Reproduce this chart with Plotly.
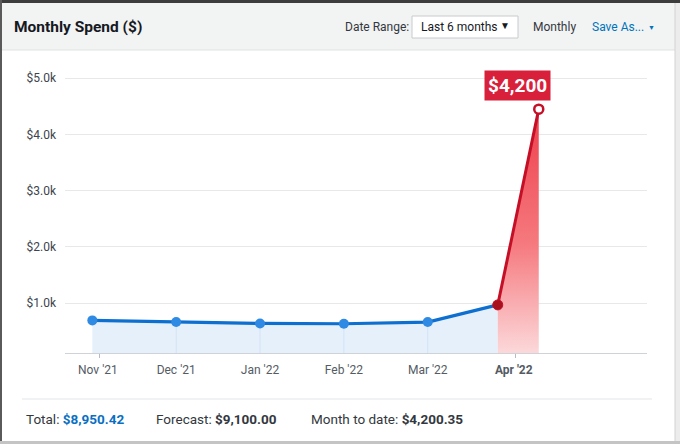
import plotly.graph_objects as go

# spend per point (the last two are the current month: start and to-date peak)
x_pos = [0, 1, 2, 3, 4, 4.835, 5.324]
spend = [695, 665, 640, 635, 665, 970, 4450]
peak_label = "$4,200"

month_labels = ["Nov '21", "Dec '21", "Jan '22", "Feb '22", "Mar '22", "<b>Apr '22</b>"]
month_ticks = [0.066, 1.0, 2.0, 3.0, 4.0, 5.026]
edge_ticks = [0.083, 5.045]

y_ticks = [1000, 2000, 3000, 4000, 5000]
y_labels = ["$1.0k", "$2.0k", "$3.0k", "$4.0k", "$5.0k"]
y_min, y_max = 115, 5324

total = "$8,950.42"
forecast = "$9,100.00"
month_to_date = "$4,200.35"

W, H = 680, 444
FONT = "Roboto"


def px(x):
    return x / W


def py(y):
    return 1 - y / H


fig = go.Figure()

# blue history, with faint vertical guides under each point
guide_x, guide_y = [], []
for xv, yv in zip(x_pos[1:5], spend[1:5]):
    guide_x += [xv, xv, None]
    guide_y += [0, yv, None]

fig.add_trace(go.Scatter(x=x_pos[:6], y=spend[:6], mode="lines", fill="tozeroy",
                         fillcolor="#e6f0fb", line=dict(color="rgba(0,0,0,0)", width=0),
                         hoverinfo="skip", showlegend=False))
fig.add_trace(go.Scatter(x=guide_x, y=guide_y, mode="lines",
                         line=dict(color="#d3e2f4", width=1),
                         hoverinfo="skip", showlegend=False))
fig.add_trace(go.Scatter(x=x_pos[5:], y=spend[5:], mode="lines", fill="tozeroy",
                         fillgradient=dict(type="vertical", start=y_min, stop=spend[6],
                                           colorscale=[[0, "#fcd8da"], [0.45, "#f5797e"],
                                                       [1, "#ee3f4b"]]),
                         line=dict(color="rgba(0,0,0,0)", width=0),
                         hoverinfo="skip", showlegend=False))
fig.add_trace(go.Scatter(x=x_pos[:6], y=spend[:6], mode="lines",
                         line=dict(color="#0d6fd0", width=3.2),
                         showlegend=False))
fig.add_trace(go.Scatter(x=x_pos[:5], y=spend[:5], mode="markers",
                         marker=dict(color="#2f8ae4", size=10),
                         showlegend=False))
fig.add_trace(go.Scatter(x=x_pos[5:], y=spend[5:], mode="lines",
                         line=dict(color="#c50f26", width=3),
                         showlegend=False))
fig.add_trace(go.Scatter(x=[x_pos[5]], y=[spend[5]], mode="markers",
                         marker=dict(color="#a8121f", size=10,
                                     line=dict(color="#c50f26", width=1)),
                         showlegend=False))
fig.add_trace(go.Scatter(x=[x_pos[6]], y=[spend[6]], mode="markers",
                         marker=dict(color="white", size=9,
                                     line=dict(color="#c50f26", width=2.5)),
                         showlegend=False))

# invisible overlay axis that only carries the two edge tick marks
fig.add_trace(go.Scatter(x=[x_pos[0]], y=[spend[0]], xaxis="x2", mode="markers",
                         marker=dict(opacity=0), hoverinfo="skip", showlegend=False))

x_range = [-0.326, 6.615]
fig.update_layout(
    width=W, height=H,
    margin=dict(l=0, r=0, t=0, b=0),
    paper_bgcolor="white", plot_bgcolor="white",
    font=dict(family=FONT, size=12, color="#545b64"),
    xaxis=dict(domain=[px(65), px(647)], range=x_range, tickmode="array",
               tickvals=month_ticks, ticktext=month_labels, showgrid=False,
               zeroline=False, showline=True, linecolor="#cfd3d7", linewidth=1,
               ticks="", ticklabelstandoff=6,
               tickfont=dict(family=FONT, size=12, color="#545b64")),
    xaxis2=dict(domain=[px(65), px(647)], range=x_range, overlaying="x",
                anchor="y", tickmode="array", tickvals=edge_ticks,
                showticklabels=False, ticks="outside", ticklen=4,
                tickcolor="#b8bcc0", showgrid=False, zeroline=False, showline=False),
    yaxis=dict(domain=[py(353), py(60)], range=[y_min, y_max], tickmode="array",
               tickvals=y_ticks, ticktext=y_labels, showgrid=True,
               gridcolor="#e6e8ea", gridwidth=1.2, zeroline=False, showline=False,
               ticks="", ticklabelstandoff=8,
               tickfont=dict(family=FONT, size=12, color="#3d444d")),
)

shapes = [
    # card frame and header band
    dict(type="rect", x0=px(0), x1=px(680), y0=py(0), y1=py(3), fillcolor="#3d3d3d", line_width=0),
    dict(type="rect", x0=px(0), x1=px(2), y0=py(0), y1=py(444), fillcolor="#5a5a5a", line_width=0),
    dict(type="rect", x0=px(2), x1=px(675), y0=py(3), y1=py(50), fillcolor="#f2f3f3",
         line_width=0),
    dict(type="line", x0=px(2), x1=px(675), y0=py(50), y1=py(50),
         line=dict(color="#dfe1e3", width=1)),
    dict(type="rect", x0=px(675), x1=px(680), y0=py(3), y1=py(444), fillcolor="#ececec",
         line_width=0),
    dict(type="line", x0=px(675), x1=px(675), y0=py(3), y1=py(441),
         line=dict(color="#d2d2d2", width=1)),
    dict(type="rect", x0=px(0), x1=px(680), y0=py(441), y1=py(444), fillcolor="#c4c4c4",
         line_width=0),
    # footer separator
    dict(type="line", x0=px(22), x1=px(652), y0=py(399), y1=py(399),
         line=dict(color="#e4e6e8", width=1.2)),
    # date range dropdown box
    dict(type="rect", x0=px(412), x1=px(518), y0=py(16), y1=py(38), fillcolor="white",
         line=dict(color="#c8cacc", width=1)),
]
for s in shapes:
    s.update(xref="paper", yref="paper", layer="below")
fig.update_layout(shapes=shapes)


def text(x, y, t, size=12, color="#16191f", anchor="left"):
    fig.add_annotation(x=px(x), y=py(y), xref="paper", yref="paper", text=t,
                       showarrow=False, xanchor=anchor, yanchor="middle",
                       font=dict(family=FONT, size=size, color=color))


text(12, 27, "<b>Monthly Spend ($)</b>", size=15.5)
text(343, 27, "Date Range:", color="#333840")
text(419, 27, "Last 6 months", color="#16191f")
text(505, 26, "▼", size=10, color="#16191f", anchor="center")
text(531, 27, "Monthly", color="#333840")
text(590, 27, "Save As...", color="#0073bb")
text(651, 28, "▼", size=7, color="#0073bb", anchor="center")

text(24, 419, "Total: <b><span style='color:#0a6fc2'>%s</span></b>" % total,
     size=13.5, color="#333840")
text(154, 419, "Forecast: <b>%s</b>" % forecast, size=13.5, color="#333840")
text(309, 419, "Month to date: <b>%s</b>" % month_to_date, size=13.5, color="#333840")

# price flag above the current-month peak
fig.add_annotation(x=x_pos[6], y=spend[6], text="<b>%s</b>" % peak_label,
                   showarrow=False, xshift=-21, yshift=24, bgcolor="#d9203a",
                   borderpad=3, font=dict(family=FONT, size=19, color="white"))

fig.write_html("out.html", config={"displayModeBar": False},
               post_script="document.body.style.margin='0';")
